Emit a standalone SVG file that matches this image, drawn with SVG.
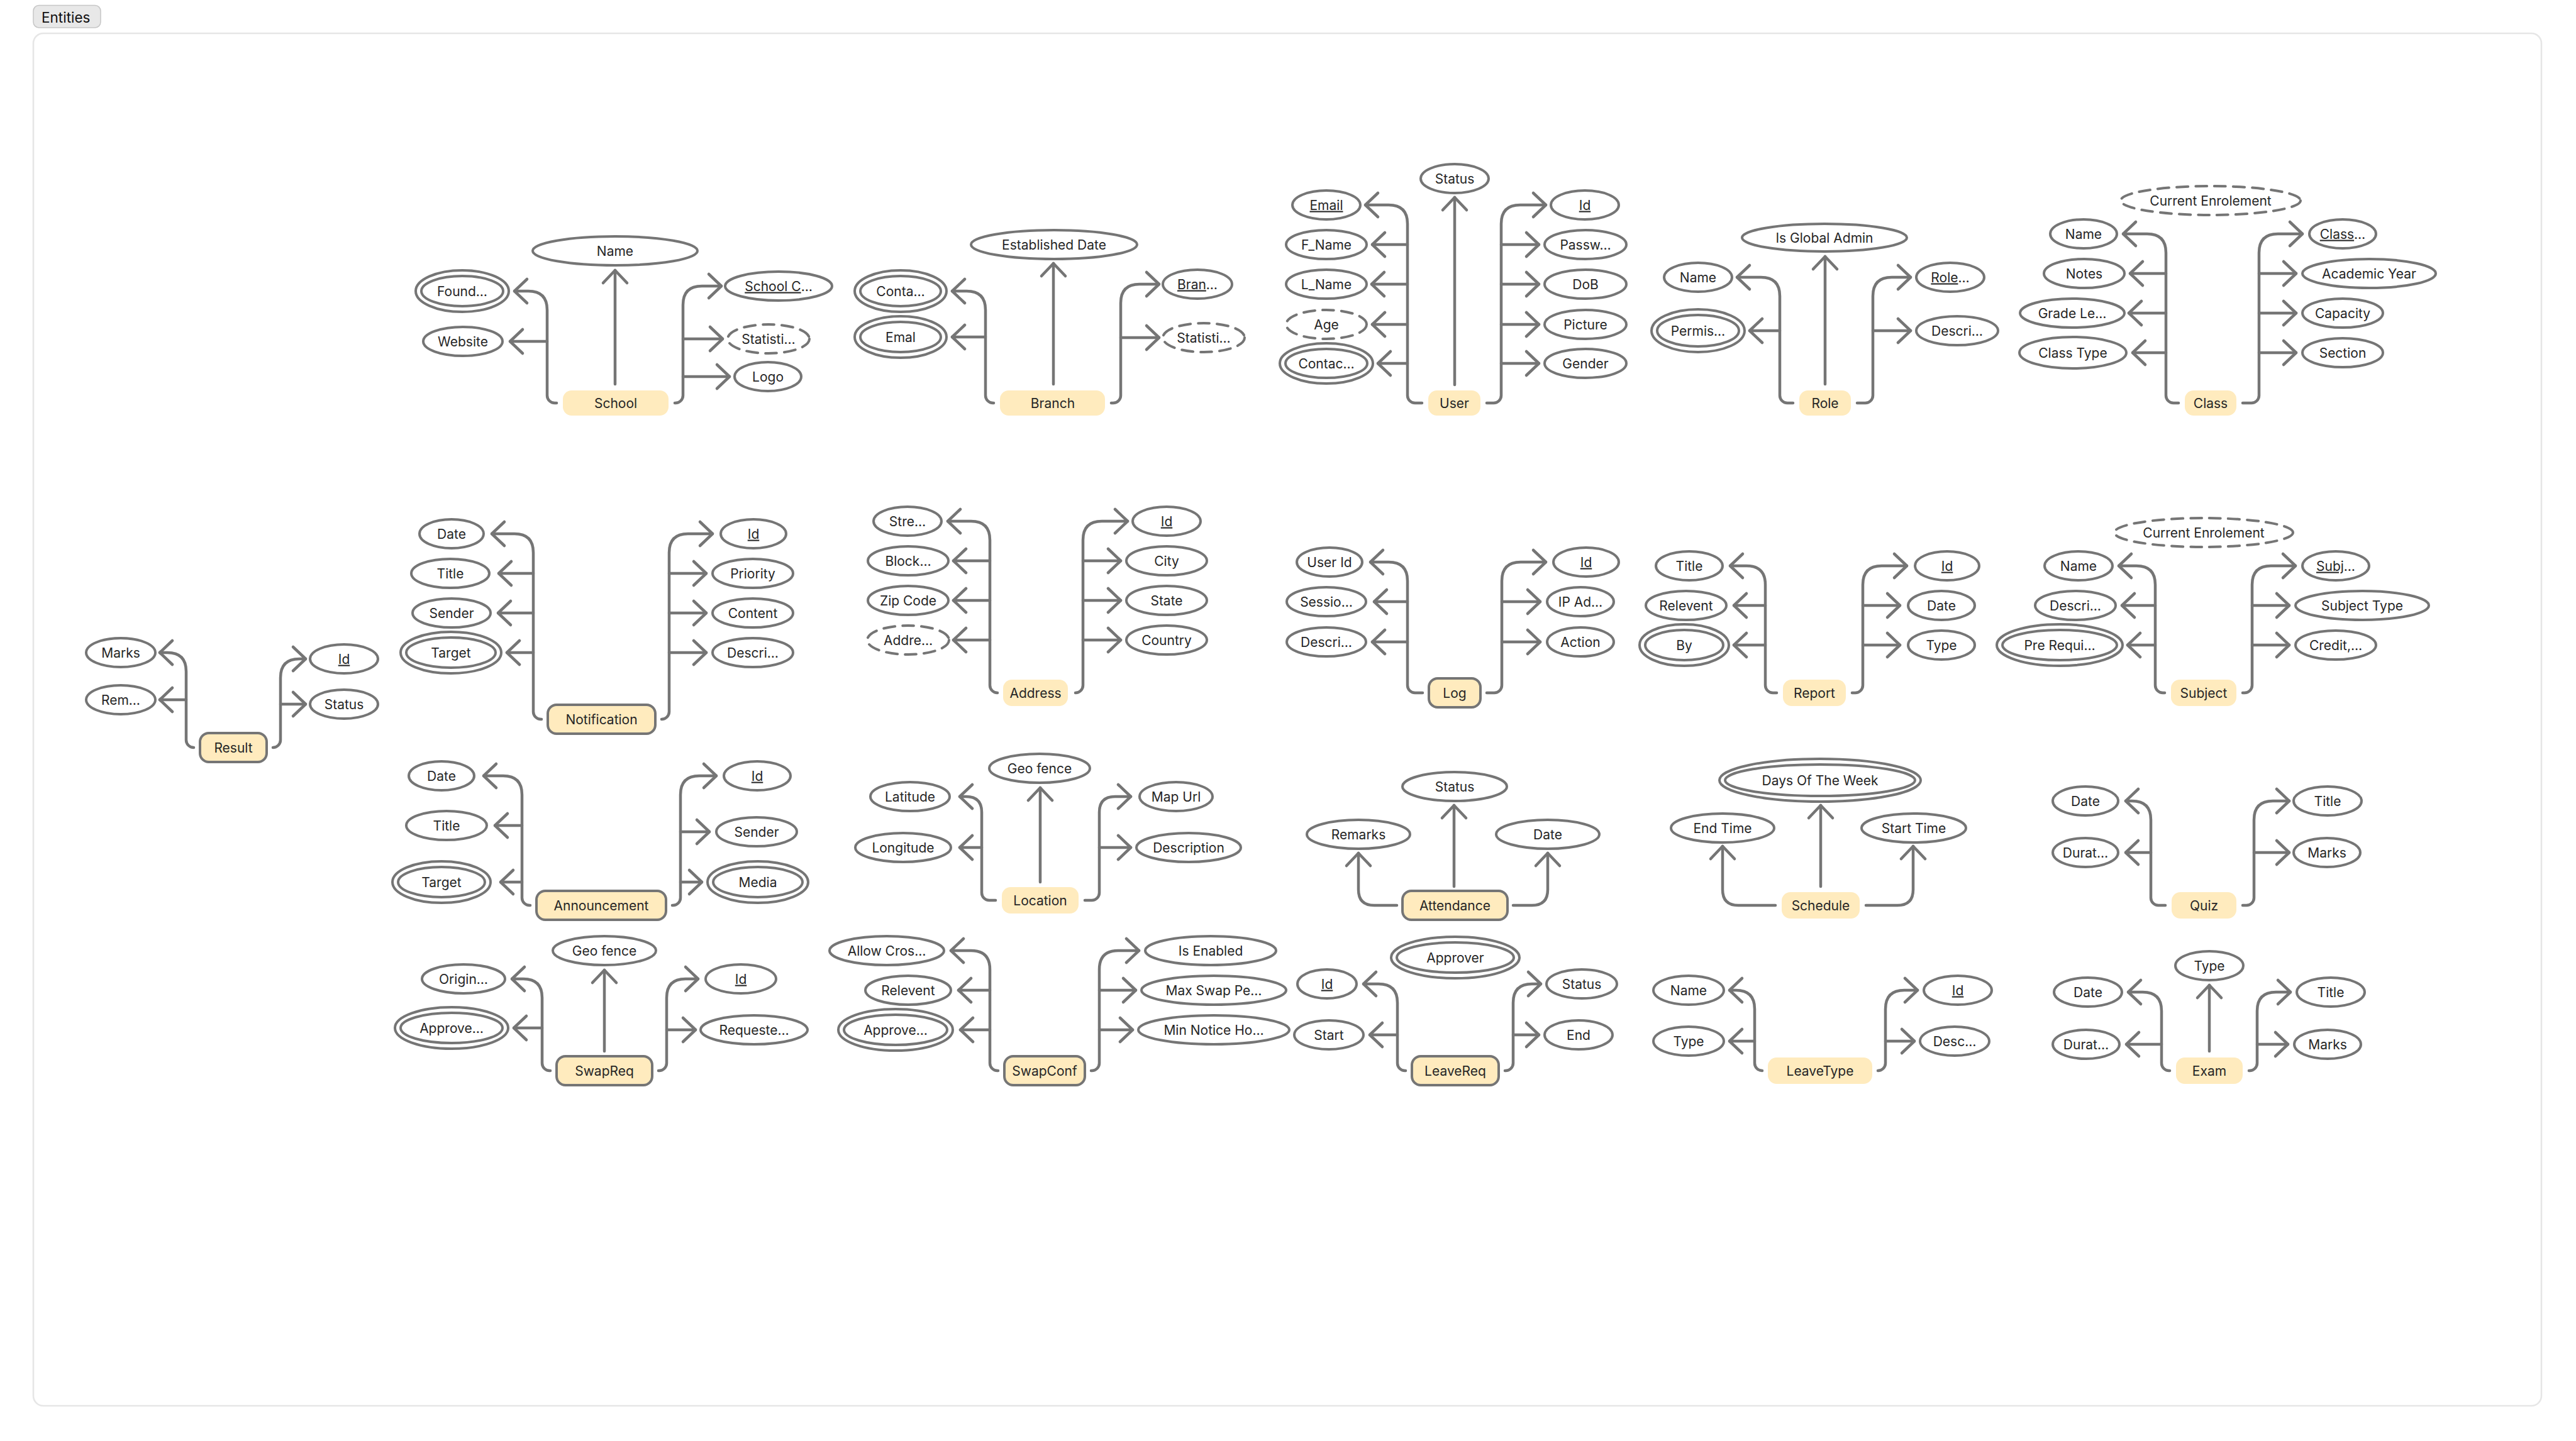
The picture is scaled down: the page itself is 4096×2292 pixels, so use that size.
<svg xmlns="http://www.w3.org/2000/svg" width="4096" height="2292" viewBox="0 0 4096 2292">
<style>
.a{fill:#fff;stroke:#757575;stroke-width:4}
.d{stroke-dasharray:18 12;stroke-linecap:round}
.t{font-family:Inter,'Liberation Sans',sans-serif;font-size:21px;fill:#262626;text-anchor:middle}
.e{fill:#FFEBBE}
.b{stroke:#757575;stroke-width:4}
.c path{fill:none;stroke:#757575;stroke-width:4.5;stroke-linecap:round;stroke-linejoin:round;marker-end:url(#ah)}
.u{text-decoration:underline}
</style>
<defs>
<marker id="ah" markerUnits="userSpaceOnUse" orient="auto" overflow="visible" markerWidth="40" markerHeight="40" refX="0" refY="0"><path d="M-20,-19L0,0L-20,19" fill="none" stroke="#757575" stroke-width="4.5" stroke-linecap="round" stroke-linejoin="round"/></marker>
</defs>
<rect x="0" y="0" width="4096" height="2292" fill="#fff"/>
<rect x="53" y="53" width="3988" height="2183" rx="16" fill="#fff" stroke="#e6e6e6" stroke-width="2.6"/>
<g id="frame-label"><rect x="53" y="8.5" width="107" height="35.5" rx="9" fill="#e8e8e8" stroke="#c6c6c6" stroke-width="1.5"/><text x="66" y="36" font-family="Inter,'Liberation Sans',sans-serif" font-size="22.5" fill="#111">Entities</text></g>

<g id="connectors" class="c">
<!-- School -->
<path d="M978,611L978,430"/>
<path d="M885,641L882,641A12,12 0 0 1 870,629L870,493Q870,463 840,463L818,463"/>
<path d="M870,543L811,543"/>
<path d="M1073,641L1074,641A12,12 0 0 0 1086,629L1086,485Q1086,455 1116,455L1147,455"/>
<path d="M1086,539L1149,539"/>
<path d="M1086,599L1160,599"/>
<!-- Branch -->
<path d="M1675,611L1675,419"/>
<path d="M1580,641L1579,641A12,12 0 0 1 1567,629L1567,493Q1567,463 1537,463L1514,463"/>
<path d="M1567,536L1514,536"/>
<path d="M1767,641L1770,641A12,12 0 0 0 1782,629L1782,482Q1782,452 1812,452L1843,452"/>
<path d="M1782,537L1843,537"/>
<!-- User -->
<path d="M2313,612L2313,314"/>
<path d="M2261,641L2250,641A12,12 0 0 1 2238,629L2238,356Q2238,326 2208,326L2171,326"/>
<path d="M2238,389L2182,389"/>
<path d="M2238,452L2181,452"/>
<path d="M2238,516L2182,516"/>
<path d="M2238,578L2191,578"/>
<path d="M2364,641L2375,641A12,12 0 0 0 2387,629L2387,356Q2387,326 2417,326L2458,326"/>
<path d="M2387,389L2447,389"/>
<path d="M2387,452L2447,452"/>
<path d="M2387,516L2447,516"/>
<path d="M2387,578L2447,578"/>
<!-- Role -->
<path d="M2902,611L2902,408"/>
<path d="M2851,641L2842,641A12,12 0 0 1 2830,629L2830,471Q2830,441 2800,441L2762,441"/>
<path d="M2830,526L2782,526"/>
<path d="M2953,641L2966,641A12,12 0 0 0 2978,629L2978,471Q2978,441 3008,441L3038,441"/>
<path d="M2978,526L3038,526"/>
<!-- Class -->
<path d="M3464,641L3456,641A12,12 0 0 1 3444,629L3444,402Q3444,372 3414,372L3376,372"/>
<path d="M3444,435L3387,435"/>
<path d="M3444,498L3385,498"/>
<path d="M3444,561L3391,561"/>
<path d="M3566,641L3580,641A12,12 0 0 0 3592,629L3592,402Q3592,372 3622,372L3661,372"/>
<path d="M3592,435L3651,435"/>
<path d="M3592,498L3651,498"/>
<path d="M3592,561L3651,561"/>
<!-- Result -->
<path d="M308,1189A12,12 0 0 1 296,1177L296,1068Q296,1038 266,1038L254,1038"/>
<path d="M296,1113L254,1113"/>
<path d="M434,1189A12,12 0 0 0 446,1177L446,1078Q446,1048 476,1048L486,1048"/>
<path d="M446,1120L486,1120"/>
<!-- Notification -->
<path d="M861,1144L860,1144A12,12 0 0 1 848,1132L848,879Q848,849 818,849L782,849"/>
<path d="M848,912L793,912"/>
<path d="M848,975L792,975"/>
<path d="M848,1038L806,1038"/>
<path d="M1052,1144A12,12 0 0 0 1064,1132L1064,879Q1064,849 1094,849L1133,849"/>
<path d="M1064,912L1123,912"/>
<path d="M1064,975L1123,975"/>
<path d="M1064,1038L1123,1038"/>
<!-- Address -->
<path d="M1586,1102A12,12 0 0 1 1574,1090L1574,859Q1574,829 1544,829L1507,829"/>
<path d="M1574,892L1516,892"/>
<path d="M1574,955L1516,955"/>
<path d="M1574,1018L1516,1018"/>
<path d="M1710,1102A12,12 0 0 0 1722,1090L1722,859Q1722,829 1752,829L1793,829"/>
<path d="M1722,892L1782,892"/>
<path d="M1722,955L1782,955"/>
<path d="M1722,1018L1782,1018"/>
<!-- Log -->
<path d="M2262,1102L2250,1102A12,12 0 0 1 2238,1090L2238,924Q2238,894 2208,894L2179,894"/>
<path d="M2238,957L2185,957"/>
<path d="M2238,1021L2182,1021"/>
<path d="M2364,1102L2376,1102A12,12 0 0 0 2388,1090L2388,924Q2388,894 2418,894L2458,894"/>
<path d="M2388,957L2449,957"/>
<path d="M2388,1021L2449,1021"/>
<!-- Report -->
<path d="M2825,1102L2819,1102A12,12 0 0 1 2807,1090L2807,930Q2807,900 2777,900L2751,900"/>
<path d="M2807,963L2757,963"/>
<path d="M2807,1026L2757,1026"/>
<path d="M2945,1102L2950,1102A12,12 0 0 0 2962,1090L2962,930Q2962,900 2992,900L3032,900"/>
<path d="M2962,963L3021,963"/>
<path d="M2962,1026L3021,1026"/>
<!-- Subject -->
<path d="M3442,1102L3439,1102A12,12 0 0 1 3427,1090L3427,930Q3427,900 3397,900L3369,900"/>
<path d="M3427,963L3374,963"/>
<path d="M3427,1026L3383,1026"/>
<path d="M3566,1102L3569,1102A12,12 0 0 0 3581,1090L3581,930Q3581,900 3611,900L3650,900"/>
<path d="M3581,963L3640,963"/>
<path d="M3581,1026L3640,1026"/>
<!-- Announcement -->
<path d="M843,1440L842,1440A12,12 0 0 1 830,1428L830,1264Q830,1234 800,1234L769,1234"/>
<path d="M830,1313L787,1313"/>
<path d="M830,1403L796,1403"/>
<path d="M1069,1440L1070,1440A12,12 0 0 0 1082,1428L1082,1264Q1082,1234 1112,1234L1139,1234"/>
<path d="M1082,1323L1128,1323"/>
<path d="M1082,1403L1116,1403"/>
<!-- Location -->
<path d="M1654,1403L1654,1253"/>
<path d="M1583,1432L1573,1432A12,12 0 0 1 1561,1420L1561,1292Q1561,1267 1536,1267L1526,1267"/>
<path d="M1561,1348L1526,1348"/>
<path d="M1725,1432L1736,1432A12,12 0 0 0 1748,1420L1748,1292Q1748,1267 1773,1267L1798,1267"/>
<path d="M1748,1348L1798,1348"/>
<!-- Attendance -->
<path d="M2312,1410L2312,1281"/>
<path d="M2221,1440L2185,1440Q2160,1440 2160,1415L2160,1357"/>
<path d="M2406,1440L2436,1440Q2461,1440 2461,1415L2461,1357"/>
<!-- Schedule -->
<path d="M2895,1410L2895,1281"/>
<path d="M2823,1440L2764,1440Q2739,1440 2739,1415L2739,1346"/>
<path d="M2967,1440L3017,1440Q3042,1440 3042,1415L3042,1346"/>
<!-- Quiz -->
<path d="M3443,1440L3432,1440A12,12 0 0 1 3420,1428L3420,1304Q3420,1274 3390,1274L3380,1274"/>
<path d="M3420,1356L3380,1356"/>
<path d="M3566,1440L3572,1440A12,12 0 0 0 3584,1428L3584,1304Q3584,1274 3614,1274L3640,1274"/>
<path d="M3584,1356L3640,1356"/>
<!-- SwapReq -->
<path d="M961,1672L961,1543"/>
<path d="M875,1703L874,1703A12,12 0 0 1 862,1691L862,1587Q862,1557 832,1557L814,1557"/>
<path d="M862,1635L817,1635"/>
<path d="M1047,1703L1048,1703A12,12 0 0 0 1060,1691L1060,1587Q1060,1557 1090,1557L1110,1557"/>
<path d="M1060,1638L1106,1638"/>
<!-- SwapConf -->
<path d="M1587,1703L1586,1703A12,12 0 0 1 1574,1691L1574,1542Q1574,1512 1544,1512L1512,1512"/>
<path d="M1574,1575L1524,1575"/>
<path d="M1574,1638L1527,1638"/>
<path d="M1735,1703L1736,1703A12,12 0 0 0 1748,1691L1748,1542Q1748,1512 1778,1512L1811,1512"/>
<path d="M1748,1575L1806,1575"/>
<path d="M1748,1638L1801,1638"/>
<!-- LeaveReq -->
<path d="M2235,1703L2234,1703A12,12 0 0 1 2222,1691L2222,1595Q2222,1565 2192,1565L2168,1565"/>
<path d="M2222,1646L2178,1646"/>
<path d="M2393,1703L2394,1703A12,12 0 0 0 2406,1691L2406,1595Q2406,1565 2436,1565L2450,1565"/>
<path d="M2406,1646L2447,1646"/>
<!-- LeaveType -->
<path d="M2802,1703A12,12 0 0 1 2790,1691L2790,1605Q2790,1575 2760,1575L2750,1575"/>
<path d="M2790,1656L2750,1656"/>
<path d="M2986,1703A12,12 0 0 0 2998,1691L2998,1605Q2998,1575 3028,1575L3049,1575"/>
<path d="M2998,1656L3044,1656"/>
<!-- Exam -->
<path d="M3513,1672L3513,1567"/>
<path d="M3450,1703L3449,1703A12,12 0 0 1 3437,1691L3437,1608Q3437,1578 3407,1578L3384,1578"/>
<path d="M3437,1661L3381,1661"/>
<path d="M3576,1703L3577,1703A12,12 0 0 0 3589,1691L3589,1608Q3589,1578 3619,1578L3642,1578"/>
<path d="M3589,1661L3638,1661"/>
</g>

<!-- School -->
<g id="school"><rect class="e" x="895" y="621" width="168" height="40" rx="14"/><text class="t" x="979" y="648.5">School</text></g>
<g id="school-name"><ellipse class="a" cx="978" cy="399" rx="131" ry="23"/><text class="t" x="978" y="406.5">Name</text></g>
<g id="school-found"><ellipse class="a" cx="735" cy="463" rx="74" ry="33"/><ellipse class="a" cx="735" cy="463" rx="65" ry="24"/><text class="t" x="735" y="470.5">Found…</text></g>
<g id="school-website"><ellipse class="a" cx="736" cy="543" rx="63" ry="23"/><text class="t" x="736" y="550.5">Website</text></g>
<g id="school-code"><ellipse class="a" cx="1238" cy="455" rx="85" ry="23"/><text class="t" x="1238" y="462.5"><tspan class="u">School C</tspan>…</text></g>
<g id="school-stats"><ellipse class="a d" cx="1222" cy="539" rx="65" ry="23"/><text class="t" x="1222" y="546.5">Statisti…</text></g>
<g id="school-logo"><ellipse class="a" cx="1221" cy="599" rx="53" ry="23"/><text class="t" x="1221" y="606.5">Logo</text></g>

<!-- Branch -->
<g id="branch"><rect class="e" x="1590" y="621" width="167" height="40" rx="14"/><text class="t" x="1674" y="648.5">Branch</text></g>
<g id="branch-established"><ellipse class="a" cx="1676" cy="389" rx="132" ry="23"/><text class="t" x="1676" y="396.5">Established Date</text></g>
<g id="branch-contact"><ellipse class="a" cx="1432" cy="463" rx="73" ry="33"/><ellipse class="a" cx="1432" cy="463" rx="64" ry="24"/><text class="t" x="1432" y="470.5">Conta…</text></g>
<g id="branch-email"><ellipse class="a" cx="1432" cy="536" rx="73" ry="33"/><ellipse class="a" cx="1432" cy="536" rx="64" ry="24"/><text class="t" x="1432" y="543.5">Emal</text></g>
<g id="branch-id"><ellipse class="a" cx="1904" cy="452" rx="55" ry="23"/><text class="t" x="1904" y="459.5"><tspan class="u">Bran</tspan>…</text></g>
<g id="branch-stats"><ellipse class="a d" cx="1914" cy="537" rx="65" ry="23"/><text class="t" x="1914" y="544.5">Statisti…</text></g>

<!-- User -->
<g id="user"><rect class="e" x="2271" y="621" width="83" height="40" rx="14"/><text class="t" x="2312.5" y="648.5">User</text></g>
<g id="user-status"><ellipse class="a" cx="2313" cy="284" rx="54" ry="23"/><text class="t" x="2313" y="291.5">Status</text></g>
<g id="user-email"><ellipse class="a" cx="2109" cy="326" rx="54" ry="23"/><text class="t" x="2109" y="333.5"><tspan class="u">Email</tspan></text></g>
<g id="user-fname"><ellipse class="a" cx="2109" cy="389" rx="64" ry="23"/><text class="t" x="2109" y="396.5">F_Name</text></g>
<g id="user-lname"><ellipse class="a" cx="2109" cy="452" rx="64" ry="23"/><text class="t" x="2109" y="459.5">L_Name</text></g>
<g id="user-age"><ellipse class="a d" cx="2109" cy="516" rx="64" ry="23"/><text class="t" x="2109" y="523.5">Age</text></g>
<g id="user-contact"><ellipse class="a" cx="2109" cy="578" rx="74" ry="32"/><ellipse class="a" cx="2109" cy="578" rx="65" ry="23"/><text class="t" x="2109" y="585.5">Contac…</text></g>
<g id="user-id"><ellipse class="a" cx="2520" cy="326" rx="54" ry="23"/><text class="t" x="2520" y="333.5"><tspan class="u">Id</tspan></text></g>
<g id="user-password"><ellipse class="a" cx="2521" cy="389" rx="65" ry="23"/><text class="t" x="2521" y="396.5">Passw…</text></g>
<g id="user-dob"><ellipse class="a" cx="2521" cy="452" rx="65" ry="23"/><text class="t" x="2521" y="459.5">DoB</text></g>
<g id="user-picture"><ellipse class="a" cx="2521" cy="516" rx="65" ry="23"/><text class="t" x="2521" y="523.5">Picture</text></g>
<g id="user-gender"><ellipse class="a" cx="2521" cy="578" rx="65" ry="23"/><text class="t" x="2521" y="585.5">Gender</text></g>

<!-- Role -->
<g id="role"><rect class="e" x="2861" y="621" width="82" height="40" rx="14"/><text class="t" x="2902" y="648.5">Role</text></g>
<g id="role-global"><ellipse class="a" cx="2901" cy="378" rx="131" ry="22"/><text class="t" x="2901" y="385.5">Is Global Admin</text></g>
<g id="role-name"><ellipse class="a" cx="2700" cy="441" rx="54" ry="23"/><text class="t" x="2700" y="448.5">Name</text></g>
<g id="role-permissions"><ellipse class="a" cx="2700" cy="526" rx="74" ry="34"/><ellipse class="a" cx="2700" cy="526" rx="65" ry="25"/><text class="t" x="2700" y="533.5">Permis…</text></g>
<g id="role-id"><ellipse class="a" cx="3101" cy="441" rx="54" ry="23"/><text class="t" x="3101" y="448.5"><tspan class="u">Role</tspan>…</text></g>
<g id="role-description"><ellipse class="a" cx="3112" cy="526" rx="65" ry="23"/><text class="t" x="3112" y="533.5">Descri…</text></g>

<!-- Class -->
<g id="class"><rect class="e" x="3474" y="621" width="82" height="40" rx="14"/><text class="t" x="3515" y="648.5">Class</text></g>
<g id="class-enrolement"><ellipse class="a d" cx="3515" cy="319" rx="143" ry="23"/><text class="t" x="3515" y="326.5">Current Enrolement</text></g>
<g id="class-name"><ellipse class="a" cx="3313" cy="372" rx="53" ry="23"/><text class="t" x="3313" y="379.5">Name</text></g>
<g id="class-notes"><ellipse class="a" cx="3314" cy="435" rx="64" ry="23"/><text class="t" x="3314" y="442.5">Notes</text></g>
<g id="class-grade"><ellipse class="a" cx="3295" cy="498" rx="83" ry="23"/><text class="t" x="3295" y="505.5">Grade Le…</text></g>
<g id="class-type"><ellipse class="a" cx="3296" cy="561" rx="85" ry="25"/><text class="t" x="3296" y="568.5">Class Type</text></g>
<g id="class-id"><ellipse class="a" cx="3725" cy="372" rx="53" ry="23"/><text class="t" x="3725" y="379.5"><tspan class="u">Class</tspan>…</text></g>
<g id="class-year"><ellipse class="a" cx="3767" cy="435" rx="106" ry="23"/><text class="t" x="3767" y="442.5">Academic Year</text></g>
<g id="class-capacity"><ellipse class="a" cx="3725" cy="498" rx="64" ry="23"/><text class="t" x="3725" y="505.5">Capacity</text></g>
<g id="class-section"><ellipse class="a" cx="3725" cy="561" rx="64" ry="23"/><text class="t" x="3725" y="568.5">Section</text></g>

<!-- Result -->
<g id="result"><rect class="e b" x="318" y="1166" width="106" height="46" rx="14"/><text class="t" x="371" y="1196.5">Result</text></g>
<g id="result-marks"><ellipse class="a" cx="192" cy="1038" rx="55" ry="23"/><text class="t" x="192" y="1045.5">Marks</text></g>
<g id="result-remarks"><ellipse class="a" cx="192" cy="1113" rx="55" ry="23"/><text class="t" x="192" y="1120.5">Rem…</text></g>
<g id="result-id"><ellipse class="a" cx="547" cy="1048" rx="54" ry="23"/><text class="t" x="547" y="1055.5"><tspan class="u">Id</tspan></text></g>
<g id="result-status"><ellipse class="a" cx="547" cy="1120" rx="54" ry="23"/><text class="t" x="547" y="1127.5">Status</text></g>

<!-- Notification -->
<g id="notification"><rect class="e b" x="871" y="1121" width="171" height="46" rx="14"/><text class="t" x="956.5" y="1151.5">Notification</text></g>
<g id="notification-date"><ellipse class="a" cx="718" cy="849" rx="51" ry="23"/><text class="t" x="718" y="856.5">Date</text></g>
<g id="notification-title"><ellipse class="a" cx="716" cy="912" rx="62" ry="23"/><text class="t" x="716" y="919.5">Title</text></g>
<g id="notification-sender"><ellipse class="a" cx="718" cy="975" rx="62" ry="23"/><text class="t" x="718" y="982.5">Sender</text></g>
<g id="notification-target"><ellipse class="a" cx="717" cy="1038" rx="80" ry="33"/><ellipse class="a" cx="717" cy="1038" rx="71" ry="24"/><text class="t" x="717" y="1045.5">Target</text></g>
<g id="notification-id"><ellipse class="a" cx="1198" cy="849" rx="52" ry="23"/><text class="t" x="1198" y="856.5"><tspan class="u">Id</tspan></text></g>
<g id="notification-priority"><ellipse class="a" cx="1197" cy="912" rx="64" ry="23"/><text class="t" x="1197" y="919.5">Priority</text></g>
<g id="notification-content"><ellipse class="a" cx="1197" cy="975" rx="64" ry="23"/><text class="t" x="1197" y="982.5">Content</text></g>
<g id="notification-description"><ellipse class="a" cx="1197" cy="1038" rx="64" ry="23"/><text class="t" x="1197" y="1045.5">Descri…</text></g>

<!-- Address -->
<g id="address"><rect class="e" x="1595" y="1081" width="103" height="42" rx="14"/><text class="t" x="1646.5" y="1109.5">Address</text></g>
<g id="address-street"><ellipse class="a" cx="1443" cy="829" rx="54" ry="23"/><text class="t" x="1443" y="836.5">Stre…</text></g>
<g id="address-block"><ellipse class="a" cx="1444" cy="892" rx="64" ry="23"/><text class="t" x="1444" y="899.5">Block…</text></g>
<g id="address-zip"><ellipse class="a" cx="1444" cy="955" rx="64" ry="23"/><text class="t" x="1444" y="962.5">Zip Code</text></g>
<g id="address-full"><ellipse class="a d" cx="1444" cy="1018" rx="65" ry="23"/><text class="t" x="1444" y="1025.5">Addre…</text></g>
<g id="address-id"><ellipse class="a" cx="1855" cy="829" rx="54" ry="23"/><text class="t" x="1855" y="836.5"><tspan class="u">Id</tspan></text></g>
<g id="address-city"><ellipse class="a" cx="1855" cy="892" rx="64" ry="23"/><text class="t" x="1855" y="899.5">City</text></g>
<g id="address-state"><ellipse class="a" cx="1855" cy="955" rx="64" ry="23"/><text class="t" x="1855" y="962.5">State</text></g>
<g id="address-country"><ellipse class="a" cx="1855" cy="1018" rx="64" ry="23"/><text class="t" x="1855" y="1025.5">Country</text></g>

<!-- Log -->
<g id="log"><rect class="e b" x="2272" y="1079" width="82" height="46" rx="14"/><text class="t" x="2313" y="1109.5">Log</text></g>
<g id="log-userid"><ellipse class="a" cx="2114" cy="894" rx="52" ry="23"/><text class="t" x="2114" y="901.5">User Id</text></g>
<g id="log-session"><ellipse class="a" cx="2109" cy="957" rx="63" ry="23"/><text class="t" x="2109" y="964.5">Sessio…</text></g>
<g id="log-description"><ellipse class="a" cx="2109" cy="1021" rx="63" ry="23"/><text class="t" x="2109" y="1028.5">Descri…</text></g>
<g id="log-id"><ellipse class="a" cx="2522" cy="894" rx="52" ry="23"/><text class="t" x="2522" y="901.5"><tspan class="u">Id</tspan></text></g>
<g id="log-ip"><ellipse class="a" cx="2513" cy="957" rx="53" ry="23"/><text class="t" x="2513" y="964.5">IP Ad…</text></g>
<g id="log-action"><ellipse class="a" cx="2513" cy="1021" rx="53" ry="23"/><text class="t" x="2513" y="1028.5">Action</text></g>

<!-- Report -->
<g id="report"><rect class="e" x="2835" y="1081" width="100" height="42" rx="14"/><text class="t" x="2885" y="1109.5">Report</text></g>
<g id="report-title"><ellipse class="a" cx="2686" cy="900" rx="53" ry="23"/><text class="t" x="2686" y="907.5">Title</text></g>
<g id="report-relevent"><ellipse class="a" cx="2681" cy="963" rx="64" ry="23"/><text class="t" x="2681" y="970.5">Relevent</text></g>
<g id="report-by"><ellipse class="a" cx="2678" cy="1026" rx="71" ry="33"/><ellipse class="a" cx="2678" cy="1026" rx="62" ry="24"/><text class="t" x="2678" y="1033.5">By</text></g>
<g id="report-id"><ellipse class="a" cx="3096" cy="900" rx="51" ry="23"/><text class="t" x="3096" y="907.5"><tspan class="u">Id</tspan></text></g>
<g id="report-date"><ellipse class="a" cx="3087" cy="963" rx="53" ry="23"/><text class="t" x="3087" y="970.5">Date</text></g>
<g id="report-type"><ellipse class="a" cx="3087" cy="1026" rx="53" ry="23"/><text class="t" x="3087" y="1033.5">Type</text></g>

<!-- Subject -->
<g id="subject"><rect class="e" x="3452" y="1081" width="104" height="42" rx="14"/><text class="t" x="3504" y="1109.5">Subject</text></g>
<g id="subject-enrolement"><ellipse class="a d" cx="3504" cy="847" rx="142" ry="23"/><text class="t" x="3504" y="854.5">Current Enrolement</text></g>
<g id="subject-name"><ellipse class="a" cx="3305" cy="900" rx="54" ry="23"/><text class="t" x="3305" y="907.5">Name</text></g>
<g id="subject-description"><ellipse class="a" cx="3300" cy="963" rx="64" ry="23"/><text class="t" x="3300" y="970.5">Descri…</text></g>
<g id="subject-prereq"><ellipse class="a" cx="3275" cy="1026" rx="100" ry="33"/><ellipse class="a" cx="3275" cy="1026" rx="91" ry="24"/><text class="t" x="3275" y="1033.5">Pre Requi…</text></g>
<g id="subject-id"><ellipse class="a" cx="3714" cy="900" rx="53" ry="23"/><text class="t" x="3714" y="907.5"><tspan class="u">Subj</tspan>…</text></g>
<g id="subject-type"><ellipse class="a" cx="3756" cy="963" rx="106" ry="23"/><text class="t" x="3756" y="970.5">Subject Type</text></g>
<g id="subject-credit"><ellipse class="a" cx="3714" cy="1026" rx="64" ry="23"/><text class="t" x="3714" y="1033.5">Credit,…</text></g>

<!-- Announcement -->
<g id="announcement"><rect class="e b" x="853" y="1417" width="206" height="46" rx="14"/><text class="t" x="956" y="1447.5">Announcement</text></g>
<g id="announcement-date"><ellipse class="a" cx="702" cy="1234" rx="52" ry="23"/><text class="t" x="702" y="1241.5">Date</text></g>
<g id="announcement-title"><ellipse class="a" cx="710" cy="1313" rx="64" ry="23"/><text class="t" x="710" y="1320.5">Title</text></g>
<g id="announcement-target"><ellipse class="a" cx="702" cy="1403" rx="78" ry="33"/><ellipse class="a" cx="702" cy="1403" rx="69" ry="24"/><text class="t" x="702" y="1410.5">Target</text></g>
<g id="announcement-id"><ellipse class="a" cx="1204" cy="1234" rx="53" ry="23"/><text class="t" x="1204" y="1241.5"><tspan class="u">Id</tspan></text></g>
<g id="announcement-sender"><ellipse class="a" cx="1203" cy="1323" rx="64" ry="23"/><text class="t" x="1203" y="1330.5">Sender</text></g>
<g id="announcement-media"><ellipse class="a" cx="1205" cy="1403" rx="80" ry="33"/><ellipse class="a" cx="1205" cy="1403" rx="71" ry="24"/><text class="t" x="1205" y="1410.5">Media</text></g>

<!-- Location -->
<g id="location"><rect class="e" x="1593" y="1411" width="122" height="42" rx="14"/><text class="t" x="1654" y="1439.5">Location</text></g>
<g id="location-geofence"><ellipse class="a" cx="1653" cy="1222" rx="80" ry="23"/><text class="t" x="1653" y="1229.5">Geo fence</text></g>
<g id="location-latitude"><ellipse class="a" cx="1447" cy="1267" rx="63" ry="23"/><text class="t" x="1447" y="1274.5">Latitude</text></g>
<g id="location-longitude"><ellipse class="a" cx="1436" cy="1348" rx="76" ry="23"/><text class="t" x="1436" y="1355.5">Longitude</text></g>
<g id="location-mapurl"><ellipse class="a" cx="1870" cy="1267" rx="58" ry="23"/><text class="t" x="1870" y="1274.5">Map Url</text></g>
<g id="location-description"><ellipse class="a" cx="1890" cy="1348" rx="83" ry="23"/><text class="t" x="1890" y="1355.5">Description</text></g>

<!-- Attendance -->
<g id="attendance"><rect class="e b" x="2230" y="1417" width="167" height="46" rx="14"/><text class="t" x="2313.5" y="1447.5">Attendance</text></g>
<g id="attendance-status"><ellipse class="a" cx="2313" cy="1251" rx="83" ry="23"/><text class="t" x="2313" y="1258.5">Status</text></g>
<g id="attendance-remarks"><ellipse class="a" cx="2160" cy="1327" rx="82" ry="23"/><text class="t" x="2160" y="1334.5">Remarks</text></g>
<g id="attendance-date"><ellipse class="a" cx="2461" cy="1327" rx="82" ry="23"/><text class="t" x="2461" y="1334.5">Date</text></g>

<!-- Schedule -->
<g id="schedule"><rect class="e" x="2833" y="1419" width="124" height="42" rx="14"/><text class="t" x="2895" y="1447.5">Schedule</text></g>
<g id="schedule-days"><ellipse class="a" cx="2894" cy="1241" rx="160" ry="34"/><ellipse class="a" cx="2894" cy="1241" rx="151" ry="25"/><text class="t" x="2894" y="1248.5">Days Of The Week</text></g>
<g id="schedule-end"><ellipse class="a" cx="2739" cy="1317" rx="82" ry="23"/><text class="t" x="2739" y="1324.5">End Time</text></g>
<g id="schedule-start"><ellipse class="a" cx="3043" cy="1317" rx="83" ry="23"/><text class="t" x="3043" y="1324.5">Start Time</text></g>

<!-- Quiz -->
<g id="quiz"><rect class="e" x="3453" y="1419" width="103" height="42" rx="14"/><text class="t" x="3504.5" y="1447.5">Quiz</text></g>
<g id="quiz-date"><ellipse class="a" cx="3316" cy="1274" rx="52" ry="23"/><text class="t" x="3316" y="1281.5">Date</text></g>
<g id="quiz-duration"><ellipse class="a" cx="3316" cy="1356" rx="52" ry="23"/><text class="t" x="3316" y="1363.5">Durat…</text></g>
<g id="quiz-title"><ellipse class="a" cx="3701" cy="1274" rx="54" ry="23"/><text class="t" x="3701" y="1281.5">Title</text></g>
<g id="quiz-marks"><ellipse class="a" cx="3700" cy="1356" rx="53" ry="23"/><text class="t" x="3700" y="1363.5">Marks</text></g>

<!-- SwapReq -->
<g id="swapreq"><rect class="e b" x="885" y="1680" width="152" height="46" rx="14"/><text class="t" x="961" y="1710.5">SwapReq</text></g>
<g id="swapreq-geofence"><ellipse class="a" cx="961" cy="1512" rx="82" ry="23"/><text class="t" x="961" y="1519.5">Geo fence</text></g>
<g id="swapreq-origin"><ellipse class="a" cx="737" cy="1557" rx="66" ry="23"/><text class="t" x="737" y="1564.5">Origin…</text></g>
<g id="swapreq-approver"><ellipse class="a" cx="718" cy="1635" rx="90" ry="33"/><ellipse class="a" cx="718" cy="1635" rx="81" ry="24"/><text class="t" x="718" y="1642.5">Approve…</text></g>
<g id="swapreq-id"><ellipse class="a" cx="1178" cy="1557" rx="56" ry="23"/><text class="t" x="1178" y="1564.5"><tspan class="u">Id</tspan></text></g>
<g id="swapreq-requested"><ellipse class="a" cx="1199" cy="1638" rx="85" ry="23"/><text class="t" x="1199" y="1645.5">Requeste…</text></g>

<!-- SwapConf -->
<g id="swapconf"><rect class="e b" x="1597" y="1680" width="128" height="46" rx="14"/><text class="t" x="1661" y="1710.5">SwapConf</text></g>
<g id="swapconf-allow"><ellipse class="a" cx="1410" cy="1512" rx="91" ry="23"/><text class="t" x="1410" y="1519.5">Allow Cros…</text></g>
<g id="swapconf-relevent"><ellipse class="a" cx="1444" cy="1575" rx="68" ry="23"/><text class="t" x="1444" y="1582.5">Relevent</text></g>
<g id="swapconf-approver"><ellipse class="a" cx="1424" cy="1638" rx="91" ry="33"/><ellipse class="a" cx="1424" cy="1638" rx="82" ry="24"/><text class="t" x="1424" y="1645.5">Approve…</text></g>
<g id="swapconf-enabled"><ellipse class="a" cx="1925" cy="1512" rx="104" ry="23"/><text class="t" x="1925" y="1519.5">Is Enabled</text></g>
<g id="swapconf-max"><ellipse class="a" cx="1930" cy="1575" rx="115" ry="23"/><text class="t" x="1930" y="1582.5">Max Swap Pe…</text></g>
<g id="swapconf-notice"><ellipse class="a" cx="1930" cy="1638" rx="120" ry="23"/><text class="t" x="1930" y="1645.5">Min Notice Ho…</text></g>

<!-- LeaveReq -->
<g id="leavereq"><rect class="e b" x="2245" y="1680" width="138" height="46" rx="14"/><text class="t" x="2314" y="1710.5">LeaveReq</text></g>
<g id="leavereq-approver"><ellipse class="a" cx="2314" cy="1523" rx="102" ry="33"/><ellipse class="a" cx="2314" cy="1523" rx="93" ry="24"/><text class="t" x="2314" y="1530.5">Approver</text></g>
<g id="leavereq-id"><ellipse class="a" cx="2110" cy="1565" rx="47" ry="23"/><text class="t" x="2110" y="1572.5"><tspan class="u">Id</tspan></text></g>
<g id="leavereq-start"><ellipse class="a" cx="2113" cy="1646" rx="55" ry="23"/><text class="t" x="2113" y="1653.5">Start</text></g>
<g id="leavereq-status"><ellipse class="a" cx="2515" cy="1565" rx="56" ry="23"/><text class="t" x="2515" y="1572.5">Status</text></g>
<g id="leavereq-end"><ellipse class="a" cx="2510" cy="1646" rx="54" ry="23"/><text class="t" x="2510" y="1653.5">End</text></g>

<!-- LeaveType -->
<g id="leavetype"><rect class="e" x="2811" y="1682" width="166" height="42" rx="14"/><text class="t" x="2894" y="1710.5">LeaveType</text></g>
<g id="leavetype-name"><ellipse class="a" cx="2685" cy="1575" rx="56" ry="23"/><text class="t" x="2685" y="1582.5">Name</text></g>
<g id="leavetype-type"><ellipse class="a" cx="2685" cy="1656" rx="56" ry="23"/><text class="t" x="2685" y="1663.5">Type</text></g>
<g id="leavetype-id"><ellipse class="a" cx="3113" cy="1575" rx="54" ry="23"/><text class="t" x="3113" y="1582.5"><tspan class="u">Id</tspan></text></g>
<g id="leavetype-desc"><ellipse class="a" cx="3108" cy="1656" rx="55" ry="23"/><text class="t" x="3108" y="1663.5">Desc…</text></g>

<!-- Exam -->
<g id="exam"><rect class="e" x="3460" y="1682" width="106" height="42" rx="14"/><text class="t" x="3513" y="1710.5">Exam</text></g>
<g id="exam-type"><ellipse class="a" cx="3513" cy="1536" rx="54" ry="23"/><text class="t" x="3513" y="1543.5">Type</text></g>
<g id="exam-date"><ellipse class="a" cx="3320" cy="1578" rx="54" ry="23"/><text class="t" x="3320" y="1585.5">Date</text></g>
<g id="exam-duration"><ellipse class="a" cx="3317" cy="1661" rx="53" ry="23"/><text class="t" x="3317" y="1668.5">Durat…</text></g>
<g id="exam-title"><ellipse class="a" cx="3706" cy="1578" rx="54" ry="23"/><text class="t" x="3706" y="1585.5">Title</text></g>
<g id="exam-marks"><ellipse class="a" cx="3701" cy="1661" rx="53" ry="23"/><text class="t" x="3701" y="1668.5">Marks</text></g>
</svg>
